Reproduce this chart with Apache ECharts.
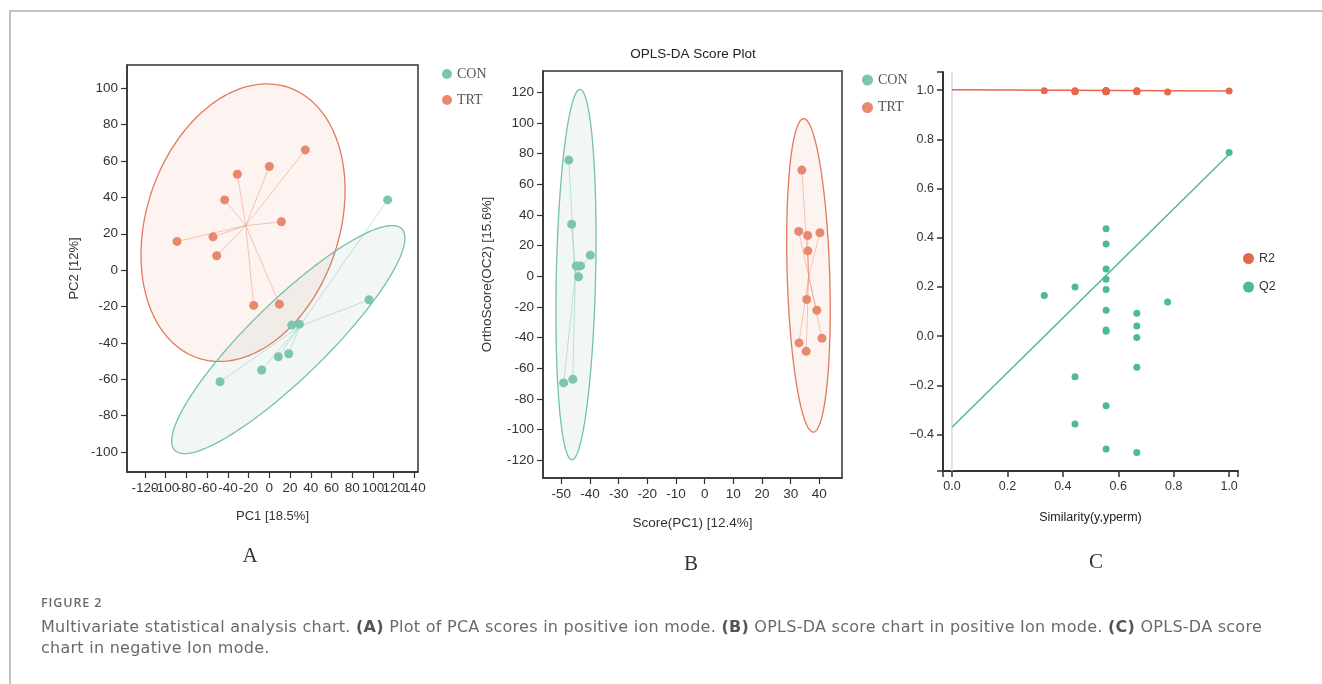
<!DOCTYPE html>
<html>
<head>
<meta charset="utf-8">
<script src="https://cdn.jsdelivr.net/npm/echarts@6/dist/echarts.min.js"></script>
<style>
  html, body { margin: 0; padding: 0; background: #fff; }
  #wrap { position: relative; width: 1322px; height: 684px; overflow: hidden; }
  #chart { position: absolute; left: 0; top: 0; width: 1322px; height: 684px; }
  #frame { position: absolute; left: 9px; top: 10px; width: 1320px; height: 700px;
           border-top: 2px solid #c2c2c2; border-left: 2px solid #c2c2c2; }
  #figlabel { position: absolute; left: 41px; top: 594px; font: 600 12.5px "Open Sans", sans-serif;
              color: #6a6a6a; letter-spacing: 0.9px; }
  #caption { position: absolute; left: 41px; top: 616px; width: 1270px; font: 16px "DejaVu Sans", "Open Sans", sans-serif;
             color: #6a6a6a; line-height: 21px; letter-spacing: 0.26px; white-space: nowrap; }
  #caption b { color: #555; }
</style>
</head>
<body>
<div id="wrap">
  <div id="frame"></div>
  <div id="chart"></div>
  <div id="figlabel">FIGURE 2</div>
  <div id="caption">Multivariate statistical analysis chart. <b>(A)</b> Plot of PCA scores in positive ion mode. <b>(B)</b> OPLS-DA score chart in positive Ion mode. <b>(C)</b> OPLS-DA score<br>chart in negative Ion mode.</div>
</div>
<script>
// ---------- data ----------
// Panel A: PCA scores [PC1, PC2]
const pcaCon = [[114.2,38.6],[96.2,-16.3],[21.6,-30.2],[29.0,-29.7],[18.7,-46.0],[8.7,-47.6],[-7.4,-54.9],[-47.6,-61.4]];
const pcaTrt = [[34.7,66.1],[0,57.0],[-30.9,52.7],[-43.1,38.6],[11.6,26.6],[-54.4,18.3],[-89.1,15.8],[-50.8,7.9],[-15.1,-19.4],[9.7,-18.7]];
// confidence ellipses: [centerX, centerY, halfExtentX, halfExtentY, correlation]
const pcaConEllipse = [18.3, -38.2, 112.6, 62.7, 0.89];
const pcaTrtEllipse = [-25.4, 26.1, 98.5, 76.3, 0.233];
const pcaXTicks = [-120,-100,-80,-60,-40,-20,0,20,40,60,80,100,120,140];
const pcaYTicks = [-100,-80,-60,-40,-20,0,20,40,60,80,100];

// Panel B: OPLS-DA scores [Score(PC1), OrthoScore(OC2)]
const oplsCon = [[-47.4,75.7],[-46.4,33.9],[-39.9,13.7],[-44.8,6.7],[-43.3,6.7],[-44.0,-0.4],[-46.0,-67.2],[-49.2,-69.6]];
const oplsTrt = [[33.9,69.2],[32.8,29.2],[35.9,26.5],[40.2,28.3],[36.0,16.5],[35.6,-15.2],[39.1,-22.2],[40.9,-40.5],[32.9,-43.5],[35.4,-49.0]];
const oplsConEllipse = [-44.9, 1.0, 7.0, 120.8, 0.2];
const oplsTrtEllipse = [36.2, 0.5, 7.6, 102.2, -0.22];
const oplsXTicks = [-50,-40,-30,-20,-10,0,10,20,30,40];
const oplsYTicks = [-120,-100,-80,-60,-40,-20,0,20,40,60,80,100,120];

// Panel C: permutation test
const permX  = [0.333, 0.444,0.444,0.444, 0.556,0.556,0.556,0.556,0.556,0.556,0.556,0.556,0.556,0.556, 0.667,0.667,0.667,0.667,0.667, 0.778, 1.0];
const permR2 = [0.998, 0.998,0.995,0.994, 0.999,0.998,0.997,0.996,0.995,0.995,0.994,0.994,0.996,0.998, 0.998,0.996,0.995,0.994,0.997, 0.993, 0.997];
const permQ2 = [0.165, 0.200,-0.165,-0.357, 0.437,0.375,0.273,0.232,0.190,0.105,0.025,0.020,-0.283,-0.459, 0.093,0.041,-0.005,-0.126,-0.473, 0.139, 0.747];
const r2Fit = [[0, 1.002], [1, 0.997]];
const q2Fit = [[0, -0.370], [1, 0.740]];
const permXTicks = [0, 0.2, 0.4, 0.6, 0.8, 1.0];
const permYTicks = [-0.4, -0.2, 0, 0.2, 0.4, 0.6, 0.8, 1.0];
const permXRange = [-0.0324, 1.032];
const permYRange = [-0.548, 1.074];

// ---------- styles ----------
const CON = '#7cc6ae', TRT = '#e6896f';
const CON_LINE = '#74c2a9', TRT_LINE = '#e2795d';
const R2C = '#e8654e', Q2C = '#4cb99b';
const FONT = '"Liberation Sans", Arial, sans-serif';
const MINUS = v => String(v).replace('-', '\u2212');
const HYPH = v => String(v);

function ellipse(name, p, fill, stroke, gi) {
  return {
    type: 'custom', name, xAxisIndex: gi, yAxisIndex: gi, silent: true, z: 1,
    data: [[p[0], p[1]]],
    renderItem: (params, api) => {
      const [cx, cy, rx, ry, r] = p, s = Math.sqrt(1 - r * r), pts = [];
      for (let i = 0; i <= 180; i++) {
        const t = i / 180 * 2 * Math.PI;
        pts.push(api.coord([cx + rx * Math.cos(t), cy + ry * (r * Math.cos(t) + s * Math.sin(t))]));
      }
      return { type: 'polygon', shape: { points: pts }, style: { fill, stroke, lineWidth: 1.3 } };
    }
  };
}
function star(name, pts, color, gi) {
  const c = [pts.reduce((a, p) => a + p[0], 0) / pts.length, pts.reduce((a, p) => a + p[1], 0) / pts.length];
  return {
    type: 'custom', name, xAxisIndex: gi, yAxisIndex: gi, silent: true, z: 2,
    data: pts,
    renderItem: (params, api) => {
      const a = api.coord(c), b = api.coord([api.value(0), api.value(1)]);
      return { type: 'line', shape: { x1: a[0], y1: a[1], x2: b[0], y2: b[1] }, style: { stroke: color, lineWidth: 1 } };
    }
  };
}
function scatter(name, pts, color, gi, size) {
  return { type: 'scatter', name, xAxisIndex: gi, yAxisIndex: gi, data: pts, symbolSize: size, z: 3,
           itemStyle: { color, opacity: 1 }, emphasis: { disabled: true } };
}
function valAxis(gi, min, max, ticks, fmt, extra) {
  return Object.assign({
    type: 'value', gridIndex: gi, min, max, scale: true,
    axisLine: { show: true, onZero: false, lineStyle: { color: '#333', width: 1.5 } },
    axisTick: { show: true, customValues: ticks, length: 6, lineStyle: { color: '#333', width: 1.2 } },
    axisLabel: { show: true, customValues: ticks, formatter: fmt, color: '#333', fontFamily: FONT, fontSize: 13.5, margin: 9,
                 showMinLabel: true, showMaxLabel: true, hideOverlap: false },
    splitLine: { show: false },
    nameTextStyle: { color: '#333', fontFamily: FONT, fontSize: 13.5 },
    nameLocation: 'middle'
  }, extra || {});
}
// label-only axis (used so that the crowded, overlapping PC1 labels all stay visible)
function labelAxis(gi, min, max, vals, fmt) {
  return {
    type: 'value', gridIndex: gi, min, max, position: 'bottom', offset: 0,
    axisLine: { show: false }, axisTick: { show: false }, splitLine: { show: false },
    axisLabel: { show: true, customValues: vals, formatter: fmt, color: '#333', fontFamily: FONT, fontSize: 13.5, margin: 9,
                 showMinLabel: true, showMaxLabel: true }
  };
}
const pcaXEven = pcaXTicks.filter((v, i) => i % 2 === 0);
const pcaXOdd = pcaXTicks.filter((v, i) => i % 2 === 1);

const chart = echarts.init(document.getElementById('chart'), null, { renderer: 'canvas' });
const option = {
  animation: false,
  backgroundColor: 'transparent',
  grid: [
    { left: 127, top: 65, width: 291, height: 407, show: true, borderColor: '#333', borderWidth: 1.5, backgroundColor: 'transparent', outerBoundsMode: 'none' },
    { left: 543, top: 71, width: 299, height: 407, show: true, borderColor: '#333', borderWidth: 1.5, backgroundColor: 'transparent', outerBoundsMode: 'none' },
    { left: 943, top: 72, width: 295, height: 399, show: false, outerBoundsMode: 'none' }
  ],
  xAxis: [
    valAxis(0, -137.4, 143.5, pcaXTicks, HYPH, { position: 'bottom', name: 'PC1 [18.5%]', nameGap: 38,
      axisLabel: { show: false }, nameTextStyle: { color: '#333', fontFamily: FONT, fontSize: 13 } }),
    valAxis(1, -56.4, 47.9, oplsXTicks, HYPH, { name: 'Score(PC1) [12.4%]', nameGap: 38 }),
    valAxis(2, permXRange[0], permXRange[1], permXTicks, v => MINUS(v.toFixed(1)),
      { name: 'Similarity(y,yperm)', nameGap: 40,
        axisLine: { show: true, onZero: false, lineStyle: { color: '#333', width: 2 } },
        axisTick: { show: true, customValues: [permXRange[0]].concat(permXTicks, [permXRange[1]]), length: 6, lineStyle: { color: '#333', width: 1.5 } },
        axisLabel: { show: true, customValues: permXTicks, formatter: v => MINUS(v.toFixed(1)), color: '#333', fontFamily: FONT, fontSize: 12.5, margin: 9, showMinLabel: true, showMaxLabel: true },
        nameTextStyle: { color: '#222', fontFamily: FONT, fontSize: 12.5 } }),
    labelAxis(0, -137.4, 143.5, pcaXEven, HYPH),
    labelAxis(0, -137.4, 143.5, pcaXOdd, HYPH)
  ],
  yAxis: [
    valAxis(0, -111, 112.8, pcaYTicks, HYPH, { name: 'PC2 [12%]', nameGap: 46, nameTextStyle: { color: '#333', fontFamily: FONT, fontSize: 13 } }),
    valAxis(1, -131.6, 133.8, oplsYTicks, HYPH, { name: 'OrthoScore(OC2) [15.6%]', nameGap: 49 }),
    valAxis(2, permYRange[0], permYRange[1], permYTicks, v => MINUS(v.toFixed(1)),
      { axisLine: { show: true, onZero: false, lineStyle: { color: '#333', width: 2 } },
        axisTick: { show: true, customValues: [permYRange[0]].concat(permYTicks, [permYRange[1]]), length: 6, lineStyle: { color: '#333', width: 1.5 } },
        axisLabel: { show: true, customValues: permYTicks, formatter: v => MINUS(v.toFixed(1)), color: '#333', fontFamily: FONT, fontSize: 12.5, margin: 9, showMinLabel: true, showMaxLabel: true } })
  ],
  legend: [
    { data: ['CON', 'TRT'], orient: 'vertical', left: 437, top: 62, icon: 'circle', itemWidth: 10, itemHeight: 10, itemGap: 12,
      selectedMode: false, textStyle: { fontFamily: '"Liberation Serif", "Times New Roman", serif', fontSize: 14, color: '#555', lineHeight: 14 } },
    { data: ['CON', 'TRT'], orient: 'vertical', left: 857, top: 68, icon: 'circle', itemWidth: 11, itemHeight: 11, itemGap: 13.5,
      selectedMode: false, textStyle: { fontFamily: '"Liberation Serif", "Times New Roman", serif', fontSize: 14, color: '#555', lineHeight: 14 } },
    { data: ['R2', 'Q2'], orient: 'vertical', left: 1238, top: 247, icon: 'circle', itemWidth: 11, itemHeight: 11, itemGap: 15.5,
      selectedMode: false, textStyle: { fontFamily: FONT, fontSize: 12.5, color: '#333', lineHeight: 12 } }
  ],
  graphic: [
    { type: 'text', x: 693, y: 54, style: { text: 'OPLS-DA Score Plot', font: '13.5px "Liberation Sans", Arial, sans-serif', fill: '#222', align: 'center', verticalAlign: 'middle' } },
    { type: 'text', x: 250, y: 556, style: { text: 'A', font: '21px "Liberation Serif", serif', fill: '#333', align: 'center', verticalAlign: 'middle' } },
    { type: 'text', x: 691, y: 564, style: { text: 'B', font: '21px "Liberation Serif", serif', fill: '#333', align: 'center', verticalAlign: 'middle' } },
    { type: 'text', x: 1096, y: 562, style: { text: 'C', font: '21px "Liberation Serif", serif', fill: '#333', align: 'center', verticalAlign: 'middle' } }
  ],
  series: [
    ellipse('TRT ellipse A', pcaTrtEllipse, 'rgba(232,120,90,0.09)', TRT_LINE, 0),
    ellipse('CON ellipse A', pcaConEllipse, 'rgba(110,150,130,0.09)', CON_LINE, 0),
    star('TRT links A', pcaTrt, 'rgba(230,137,111,0.45)', 0),
    star('CON links A', pcaCon, 'rgba(124,198,174,0.45)', 0),
    scatter('CON', pcaCon, CON, 0, 9),
    scatter('TRT', pcaTrt, TRT, 0, 9),

    ellipse('CON ellipse B', oplsConEllipse, 'rgba(110,150,130,0.09)', CON_LINE, 1),
    ellipse('TRT ellipse B', oplsTrtEllipse, 'rgba(232,120,90,0.09)', TRT_LINE, 1),
    star('CON links B', oplsCon, 'rgba(124,198,174,0.45)', 1),
    star('TRT links B', oplsTrt, 'rgba(230,137,111,0.45)', 1),
    scatter('CON', oplsCon, CON, 1, 9),
    scatter('TRT', oplsTrt, TRT, 1, 9),

    { type: 'line', name: 'zero ref', xAxisIndex: 2, yAxisIndex: 2, data: [[0, permYRange[0]], [0, permYRange[1]]], showSymbol: false, silent: true,
      lineStyle: { color: '#d9d9d9', width: 1.5 }, z: 1 },
    { type: 'line', name: 'R2 fit', xAxisIndex: 2, yAxisIndex: 2, data: r2Fit, showSymbol: false, silent: true,
      lineStyle: { color: R2C, width: 1.5 }, z: 2 },
    { type: 'line', name: 'Q2 fit', xAxisIndex: 2, yAxisIndex: 2, data: q2Fit, showSymbol: false, silent: true,
      lineStyle: { color: Q2C, width: 1.5 }, z: 2 },
    scatter('R2', permX.map((x, i) => [x, permR2[i]]), R2C, 2, 7),
    scatter('Q2', permX.map((x, i) => [x, permQ2[i]]), Q2C, 2, 7)
  ]
};
chart.setOption(option);
</script>
</body>
</html>
